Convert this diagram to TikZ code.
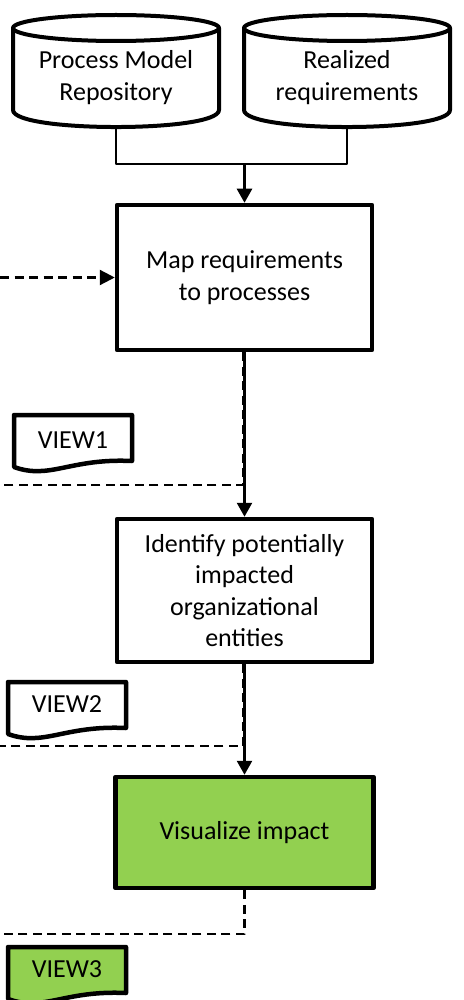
\documentclass[tikz,border=0pt]{standalone}
\usepackage{fontspec}
\setmainfont{Carlito}
\usetikzlibrary{arrows.meta}
\definecolor{actgreen}{HTML}{92D050}
\tikzset{
  txt/.style={font=\fontsize{26}{31.5}\selectfont, align=center, inner sep=0pt},
  procbox/.style={draw, line width=4.5pt, fill=white, minimum width=255pt, txt},
  flowline/.style={line width=2pt},
  flowarrow/.style={line width=2.6pt, -{Triangle[width=15pt,length=14pt]}},
  dashline/.style={line width=2.3pt, dash pattern=on 9pt off 5.5pt},
  dasharrow/.style={dashline, -{Triangle[width=15pt,length=15pt]}},
  storestyle/.style={draw, fill=white, line width=4pt},
  docstyle/.style={draw, line width=4.5pt},
  % database cylinder, origin at the centre of the top ellipse
  datastore/.pic={
    \path[pic actions] (-103,0) -- (-103,82)
      .. controls (-103,104.7) and (103,104.7) .. (103,82) -- (103,0);
    \path[pic actions] (0,0) ellipse [x radius=103pt, y radius=13pt];
    \coordinate (-bottom) at (0,99);
  },
  % document symbol with a wavy lower edge, origin at the top left corner
  viewdoc/.pic={
    \path[pic actions] (0,0) -- (118,0) -- (118,46)
      .. controls (56,43) and (36,65) .. (0,52) -- cycle;
  },
}
\begin{document}
\begin{tikzpicture}[x=1pt,y=-1pt,line join=round]
\useasboundingbox (0,0) rectangle (463,1000);

% data sources
\pic[storestyle] (pmr) at (116,28) {datastore};
\pic[storestyle] (rr) at (347,28) {datastore};
\node[txt] (pmrtext) at (116,77.5) {Process Model\\Repository};
\node[txt] (rrtext) at (347,77.5) {Realized\\requirements};

% process steps
\node[procbox, minimum height=145pt] (map) at (244.5,277.5)
  {Map requirements\\to processes};
\node[procbox, minimum height=143pt] (ident) at (244.5,590.5)
  {Identify potentially\\impacted\\organizational\\entities};
\node[procbox, fill=actgreen, minimum width=258pt, minimum height=111pt] (vis)
  at (244.5,832.5) {Visualize impact};

% view documents
\pic[docstyle, fill=white] (d1) at (14,415) {viewdoc};
\node[txt] (v1) at (73,440) {VIEW1};
\pic[docstyle, fill=white] (d2) at (8,682) {viewdoc};
\node[txt] (v2) at (67,704) {VIEW2};
\pic[docstyle, fill=actgreen] (d3) at (8,947) {viewdoc};
\node[txt] (v3) at (67,969) {VIEW3};

% free ends of the dashed connectors at the left margin
\coordinate (src) at (0,277.5);
\coordinate (out1) at (0,485);
\coordinate (out2) at (0,746);
\coordinate (out3) at (0,934);
\coordinate (merge) at (244.5,164);

% merging the two sources
\draw[flowline] (pmr-bottom) |- (merge) -| (rr-bottom);
\draw[flowarrow] (merge) -- (map.north);

% dashed inputs and outputs
\draw[dasharrow] (src) -- (map.west);
\draw[dashline] ([xshift=-1.5pt]map.south) |- (out1);
\draw[dashline] ([xshift=-1.5pt]ident.south) |- (out2);
\draw[dashline] (vis.south) |- (out3);

% main flow
\draw[flowarrow] (map.south) -- (ident.north);
\draw[flowarrow] (ident.south) -- (vis.north);
\end{tikzpicture}
\end{document}
